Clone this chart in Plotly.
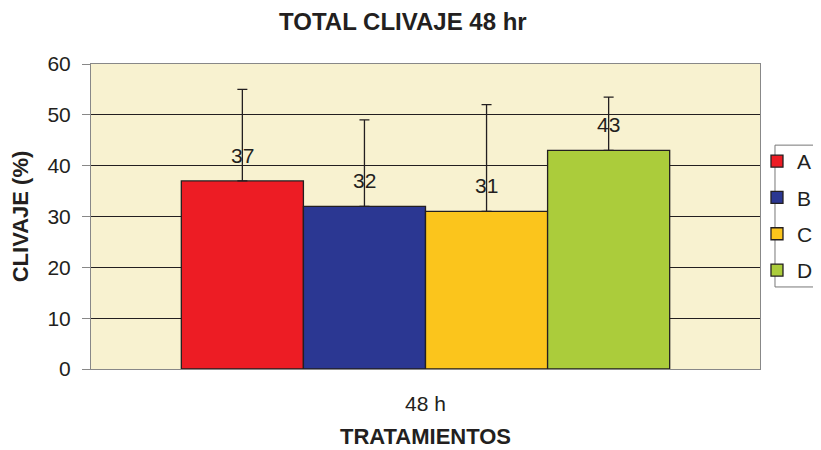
import plotly.graph_objects as go

categories = ["48 h"]
series_names = ["A", "B", "C", "D"]
values = [37, 32, 31, 43]
errors = [18, 17, 21, 10.5]
colors = ["#ED1C24", "#2B3792", "#FBC51C", "#ABCC3B"]

FONT = "Liberation Sans, Arial, sans-serif"
TXT = "#231F20"

fig = go.Figure()
for i, name in enumerate(series_names):
    fig.add_trace(go.Bar(
        x=categories, y=[values[i]], name=name,
        marker=dict(color=colors[i], line=dict(color="#231F20", width=1.3)),
        error_y=dict(type="data", array=[errors[i]], arrayminus=[0], symmetric=False,
                     color="#231F20", thickness=1.3, width=5),
        legendgroup=name,
    ))

bargap = 0.27
n = len(series_names)
w = (1 - bargap) / n
annotations = []
for i, v in enumerate(values):
    off = -(1 - bargap) / 2 + w * (i + 0.5)
    annotations.append(dict(x=off, y=v, xref="x", yref="y", text=str(v), showarrow=False,
                            yanchor="bottom", yshift=12,
                            font=dict(family=FONT, size=21, color=TXT)))

fig.update_layout(
    width=821, height=450,
    margin=dict(l=83, r=69, t=56, b=89, autoexpand=False),
    paper_bgcolor="white", plot_bgcolor="#F8F2D0",
    barmode="group", bargap=bargap, bargroupgap=0,
    title=dict(text="<b>TOTAL CLIVAJE 48 hr</b>", x=0.481, xanchor="center", y=0.969, yanchor="middle",
               font=dict(family=FONT, size=24, color=TXT)),
    font=dict(family=FONT, size=21, color=TXT),
    showlegend=True,
    legend=dict(x=0.9955, xanchor="left", y=0.7475, yanchor="top",
                borderwidth=0, bgcolor="rgba(0,0,0,0)",
                font=dict(family=FONT, size=21, color=TXT), tracegroupgap=6,
                itemwidth=30),
    shapes=[dict(type="rect", xref="paper", yref="paper", x0=1.0224, x1=1.2, y0=0.269, y1=0.734,
                 line=dict(color="#777777", width=1), fillcolor="rgba(0,0,0,0)", layer="above")],
    annotations=annotations,
)
fig.update_yaxes(range=[0, 60], dtick=10, showgrid=True, gridcolor="#231F20", gridwidth=1,
                 showline=True, linecolor="#888888", linewidth=1, mirror=True,
                 ticks="outside", ticklen=8, tickcolor="#888888", ticklabelstandoff=7,
                 tickfont=dict(family=FONT, size=21, color=TXT),
                 title=dict(text="<b>CLIVAJE (%)</b>", font=dict(family=FONT, size=22, color=TXT), standoff=12),
                 zeroline=False)
fig.update_xaxes(showline=True, linecolor="#888888", linewidth=1, mirror=True,
                 ticks="outside", ticklen=16, tickcolor="rgba(0,0,0,0)",
                 tickfont=dict(family=FONT, size=21, color=TXT),
                 title=dict(text="<b>TRATAMIENTOS</b>", font=dict(family=FONT, size=22, color=TXT), standoff=14))

fig.write_html("out.html")
